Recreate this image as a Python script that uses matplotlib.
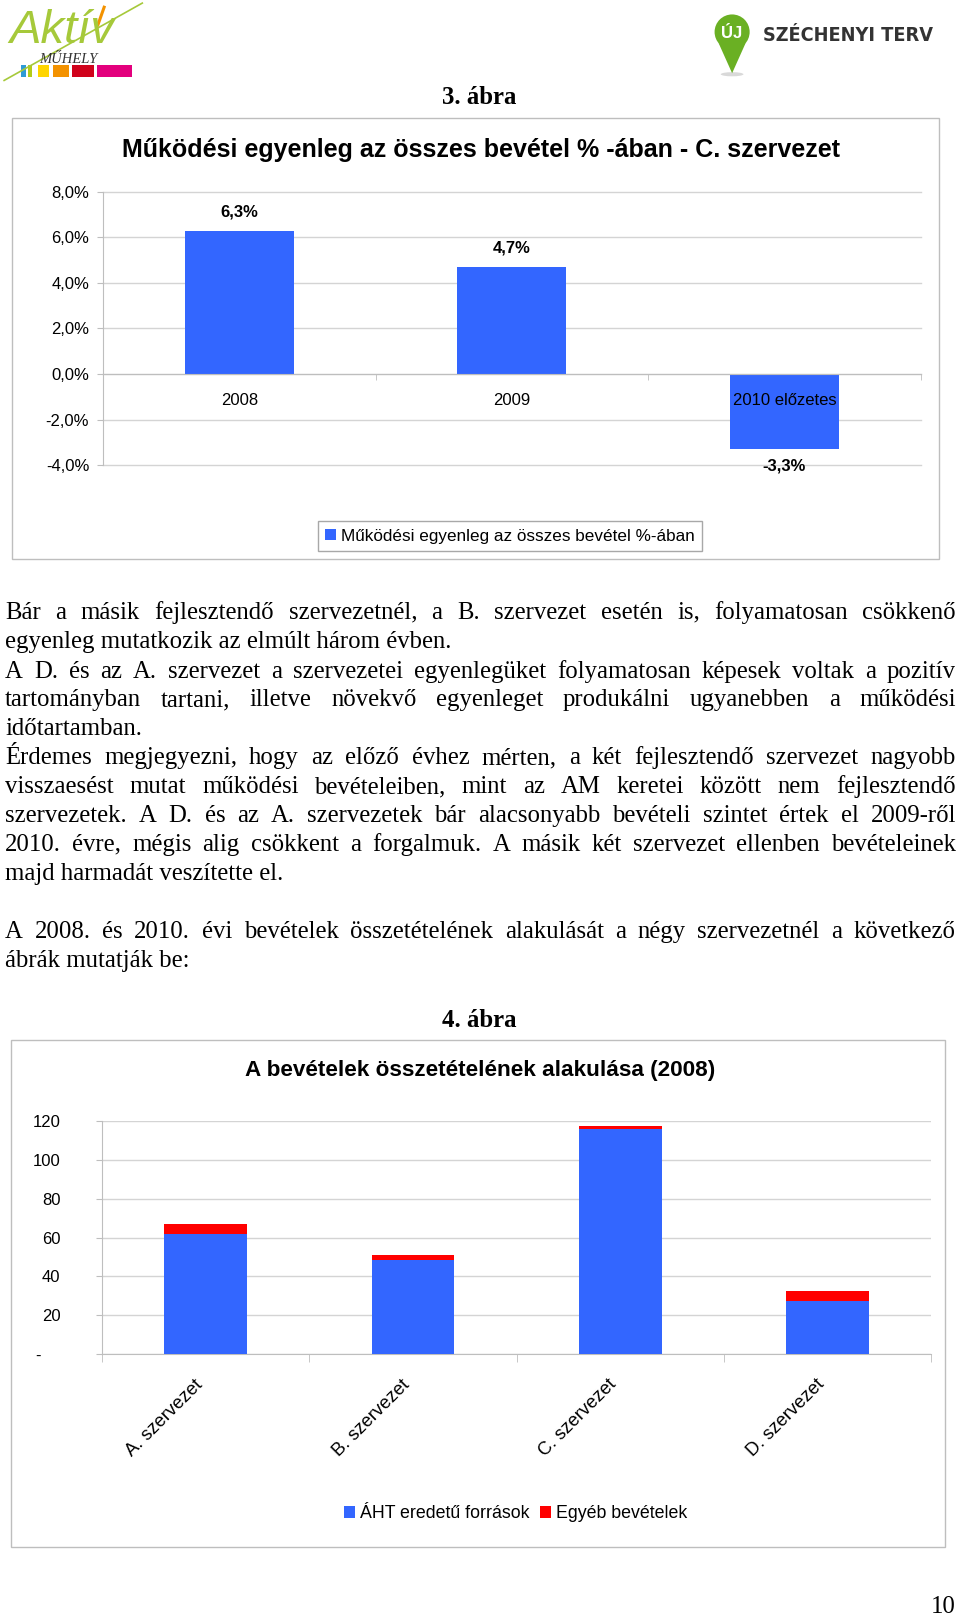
import matplotlib
matplotlib.use("Agg")
import matplotlib.pyplot as plt
from matplotlib.patches import Rectangle, Circle, Polygon, Ellipse
from matplotlib.ticker import FixedLocator
from matplotlib.transforms import ScaledTranslation

W, H = 931, 1568          # layout space (reference coordinates)
S = 960 / W               # layout unit -> output pixel
SANS = ["Liberation Sans", "DejaVu Sans"]
SERIF = ["Liberation Serif", "DejaVu Serif"]
BLUE = "#3366FF"
RED = "#FF0000"
GRID = "#D4D4D4"
AXC = "#BEBEBE"

# --- chart 1 data ---
years = ["2008", "2009", "2010 előzetes"]
balance = [6.3, 4.7, -3.3]
balance_labels = ["6,3%", "4,7%", "-3,3%"]
yticks1 = [-4, -2, 0, 2, 4, 6, 8]
ytick1_labels = ["-4,0%", "-2,0%", "0,0%", "2,0%", "4,0%", "6,0%", "8,0%"]

# --- chart 2 data ---
orgs = ["A. szervezet", "B. szervezet", "C. szervezet", "D. szervezet"]
aht = [62.0, 48.4, 115.9, 27.4]
other = [5.0, 2.7, 1.7, 4.9]
yticks2 = [0, 20, 40, 60, 80, 100, 120]
ytick2_labels = ["-    ", "20", "40", "60", "80", "100", "120"]

# --- body text: (line, y, justified) ---
para = [
    ("Bár a másik fejlesztendő szervezetnél, a B. szervezet esetén is, folyamatosan csökkenő", 593, True),
    ("egyenleg mutatkozik az elmúlt három évben.", 621, False),
    ("A D. és az A. szervezet a szervezetei egyenlegüket folyamatosan képesek voltak a pozitív", 650, True),
    ("tartományban tartani, illetve növekvő egyenleget produkálni ugyanebben a működési", 678, True),
    ("időtartamban.", 706, False),
    ("Érdemes megjegyezni, hogy az előző évhez mérten, a két fejlesztendő szervezet nagyobb", 734, True),
    ("visszaesést mutat működési bevételeiben, mint az AM keretei között nem fejlesztendő", 762, True),
    ("szervezetek. A D. és az A. szervezetek bár alacsonyabb bevételi szintet értek el 2009-ről", 790, True),
    ("2010. évre, mégis alig csökkent a forgalmuk. A másik két szervezet ellenben bevételeinek", 818, True),
    ("majd harmadát veszítette el.", 846, False),
    ("A 2008. és 2010. évi bevételek összetételének alakulását a négy szervezetnél a következő", 903, True),
    ("ábrák mutatják be:", 931, False),
]


def rect_axes(fig, l, t, r, b):
    return fig.add_axes([l / W, 1 - b / H, (r - l) / W, (b - t) / H])


fig = plt.figure(figsize=(9.6, 16.17), dpi=100)
bg = fig.add_axes([0, 0, 1, 1])
bg.set_xlim(0, W)
bg.set_ylim(H, 0)
bg.axis("off")

# ---- logos ----
bg.plot([4, 138], [78, 3], color="#A6C93A", lw=1.2)
bg.text(9, 42, "Aktív", fontsize=34, style="italic", color="#A6C93A",
        family=SANS, va="baseline")
bg.plot([95, 101], [24, 7], color="#F39200", lw=2.2)
bg.text(38, 61, "MŰHELY", fontsize=10.5, style="italic", color="#333333",
        family=SERIF, va="baseline")
for x0, x1, c in [(20, 25, "#2E9BD6"), (27, 31, "#B5CC18"), (37, 48, "#FFD500"),
                  (51, 67, "#F39200"), (70, 91, "#D0021B"), (94, 128, "#E3007D")]:
    bg.add_patch(Rectangle((x0, 63), x1 - x0, 12, color=c, lw=0))

bg.add_patch(Ellipse((710, 72), 22, 4, color="#D9D9D9", lw=0))
bg.add_patch(Polygon([[697, 42], [723, 42], [710, 71]], color="#6AB023", lw=0))
bg.add_patch(Circle((710, 31), 17, color="#6AB023", lw=0))
bg.text(710, 32, "ÚJ", fontsize=12, weight="bold", color="white", family=SANS,
        ha="center", va="center")
bg.text(740, 34, "SZÉCHENYI TERV", fontsize=14.2, weight="bold", color="#333333",
        family="DejaVu Sans", fontstretch="condensed", va="center")

# ---- headings ----
bg.text(465, 101, "3. ábra", fontsize=17.8, weight="bold", family=SERIF,
        ha="center", va="baseline")
bg.text(465, 996, "4. ábra", fontsize=17.8, weight="bold", family=SERIF,
        ha="center", va="baseline")
bg.text(915, 1564, "10", fontsize=17.8, family=SERIF, ha="center", va="baseline")

# ---- chart frames ----
bg.add_patch(Rectangle((12, 114), 899, 428, fill=False, ec=AXC, lw=1))
bg.add_patch(Rectangle((11, 1008), 905, 492, fill=False, ec=AXC, lw=1))
bg.text(466, 145, "Működési egyenleg az összes bevétel % -ában - C. szervezet",
        fontsize=18, weight="bold", family=SANS, ha="center", va="center")
bg.text(466, 1038, "A bevételek összetételének alakulása (2008)",
        fontsize=16.2, weight="bold", family=SANS, ha="center", va="center")

# ---- justified paragraph ----
renderer = fig.canvas.get_renderer()
LEFT, RIGHT = 5, 927
for line, y, just in para:
    if not just:
        bg.text(LEFT, y + 7, line, fontsize=17.8, family=SERIF, va="baseline")
        continue
    words = line.split(" ")
    objs = [bg.text(0, y + 7, w, fontsize=17.8, family=SERIF, va="baseline") for w in words]
    widths = [o.get_window_extent(renderer).width / S for o in objs]
    gap = (RIGHT - LEFT - sum(widths)) / (len(words) - 1)
    x = LEFT
    for o, w in zip(objs, widths):
        o.set_x(x)
        x += w + gap

# ---- chart 1 ----
ax1 = rect_axes(fig, 100, 186, 893, 451)
ax1.patch.set_alpha(0)
bars1 = ax1.bar(range(len(years)), balance, width=0.4, color=BLUE, zorder=3,
                label="Működési egyenleg az összes bevétel %-ában")
ax1.set_xlim(-0.5, len(years) - 0.5)
ax1.set_ylim(-4, 8)
ax1.set_yticks(yticks1)
ax1.set_yticklabels(ytick1_labels)
ax1.yaxis.grid(True, color=GRID, lw=1)
for gl in ax1.get_ygridlines():
    gl.set_clip_on(False)
ax1.set_axisbelow(True)
for s in ["top", "right"]:
    ax1.spines[s].set_visible(False)
ax1.spines["left"].set_color(AXC)
ax1.spines["bottom"].set_color(AXC)
ax1.spines["bottom"].set_position(("data", 0))
ax1.spines["bottom"].set_zorder(4)
ax1.set_xticks(range(len(years)))
ax1.set_xticklabels(years)
ax1.xaxis.set_minor_locator(FixedLocator([0.5, 1.5, 2.5]))
ax1.tick_params(axis="x", which="major", length=0, pad=14, labelsize=12)
ax1.tick_params(axis="x", which="minor", length=4, color=AXC)
ax1.tick_params(axis="y", length=4, color=AXC, pad=6, labelsize=12)
for lab in ax1.get_xticklabels() + ax1.get_yticklabels():
    lab.set_family(SANS)
    lab.set_zorder(5)
ax1.xaxis.set_zorder(5)
for i, (v, t) in enumerate(zip(balance, balance_labels)):
    off = 13.5 if v > 0 else -12
    ax1.annotate(t, (i, v), xytext=(0, off), textcoords="offset points",
                 ha="center", va="center", fontsize=12, weight="bold", family=SANS)
fig.legend(handles=[bars1], loc="center", bbox_to_anchor=(494.5 / W, 1 - 520 / H),
           prop={"family": SANS, "size": 12.3}, frameon=True, fancybox=False,
           edgecolor="#A8A8A8", framealpha=1, borderpad=0.45,
           handlelength=0.6, handleheight=0.6, handletextpad=0.3)

# ---- chart 2 ----
ax2 = rect_axes(fig, 99, 1087, 903, 1313)
ax2.patch.set_alpha(0)
x2 = range(len(orgs))
b_aht = ax2.bar(x2, aht, width=0.4, color=BLUE, zorder=3, label="ÁHT eredetű források")
b_oth = ax2.bar(x2, other, bottom=aht, width=0.4, color=RED, zorder=3, label="Egyéb bevételek")
ax2.set_xlim(-0.5, len(orgs) - 0.5)
ax2.set_ylim(0, 120)
ax2.set_yticks(yticks2)
ax2.set_yticklabels(ytick2_labels)
ax2.yaxis.grid(True, color=GRID, lw=1)
ax2.set_axisbelow(True)
for s in ["top", "right"]:
    ax2.spines[s].set_visible(False)
ax2.spines["left"].set_color(AXC)
ax2.spines["bottom"].set_color(AXC)
ax2.set_xticks(list(x2))
ax2.set_xticklabels(orgs, rotation=45, ha="right", rotation_mode="anchor")
ax2.xaxis.set_minor_locator(FixedLocator([-0.5, 0.5, 1.5, 2.5, 3.5]))
ax2.tick_params(axis="x", which="major", length=0, pad=18, labelsize=13.2)
ax2.tick_params(axis="x", which="minor", length=6, color=AXC)
ax2.tick_params(axis="y", length=4, color=AXC, pad=26, labelsize=12)
shift = ScaledTranslation(-0.12, 0.03, fig.dpi_scale_trans)
for lab in ax2.get_xticklabels():
    lab.set_transform(lab.get_transform() + shift)
for lab in ax2.get_xticklabels() + ax2.get_yticklabels():
    lab.set_family(SANS)
fig.legend(handles=[b_aht, b_oth], loc="center", bbox_to_anchor=(500 / W, 1 - 1468 / H),
           ncol=2, prop={"family": SANS, "size": 12.8}, frameon=False,
           handlelength=0.6, handleheight=0.6, handletextpad=0.3, columnspacing=0.6)

fig.savefig("out.png", dpi=100)
